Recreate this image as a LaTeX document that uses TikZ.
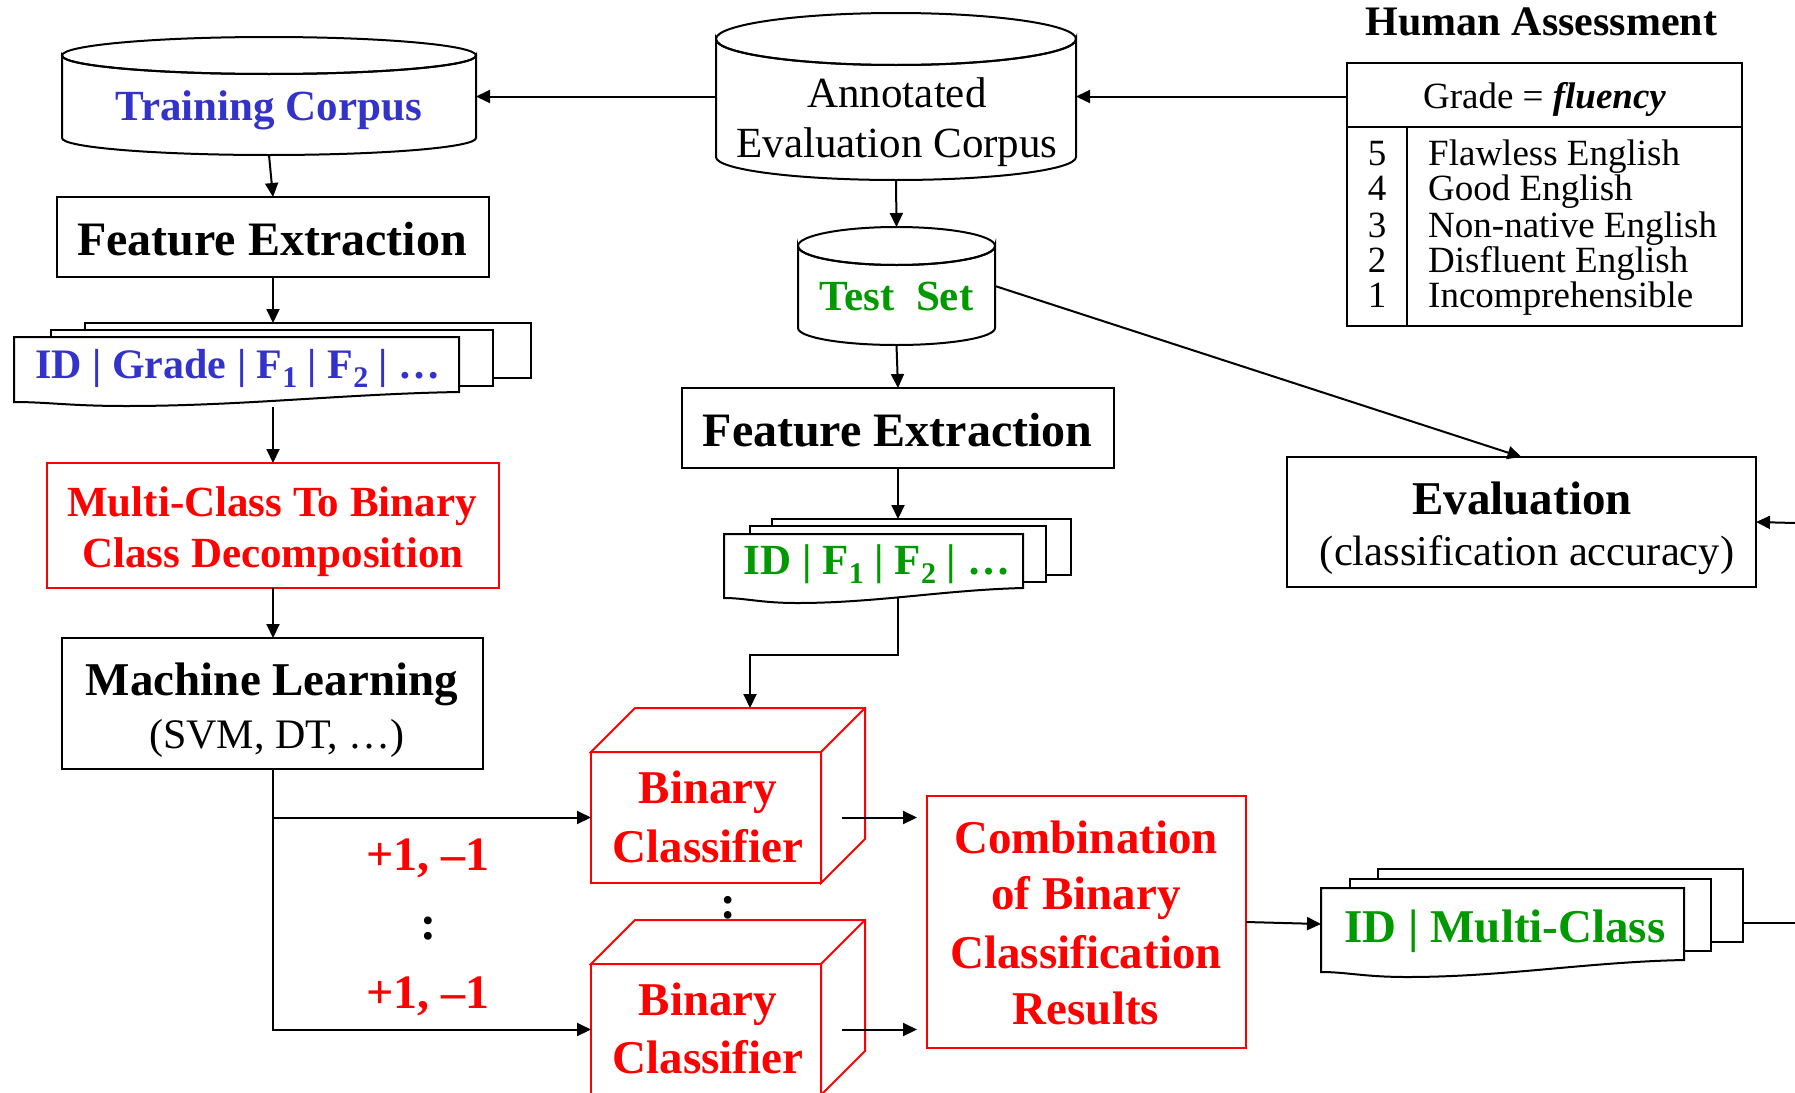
\documentclass[tikz,border=0pt]{standalone}
\usepackage{fontspec}
\setmainfont{Liberation Serif}
\usetikzlibrary{arrows.meta}
\definecolor{myred}{RGB}{255,0,0}
\definecolor{myblue}{RGB}{51,51,204}
\definecolor{mygreen}{RGB}{0,153,0}
\newcommand\fsz[1]{\fontsize{#1}{#1}\selectfont}
\newcommand\mysub[1]{\raisebox{-9pt}{\fsz{30}#1}}
% cylinder: #1 cx, #2 rx, #3 top centre y, #4 top ry, #5 bottom centre y, #6 bottom ry
\newcommand\drawcyl[6]{%
  \filldraw[fill=white,line width=2pt] ({#1-#2},#3) -- ({#1-#2},#5)
    arc[start angle=180,end angle=0,x radius=#2,y radius=#6] -- ({#1+#2},#3)
    arc[start angle=0,end angle=180,x radius=#2,y radius=#4] -- cycle;
  \draw[line width=2pt] (#1,#3) ellipse[x radius=#2,y radius=#4];}
% front document: #1 x1, #2 x2, #3 top, #4 bottom-right y, #5 bottom-left y, #6 dip x, #7 dip y
\newcommand\frontdoc[7]{%
  \filldraw[fill=white,line width=2pt] (#1,#3) -- (#2,#3) -- (#2,#4)
    .. controls ({#2-0.35*(#2-#6)},{#4+2}) and ({#6+0.35*(#2-#6)},#7) .. (#6,#7)
    .. controls ({#6-0.5*(#6-#1)},#7) and ({#1+0.3*(#6-#1)},#5) .. (#1,#5) -- cycle;}
\begin{document}
\begin{tikzpicture}[x=1pt,y=-1pt,
  ln/.style={line width=2pt},
  arr/.style={line width=2pt,-{Triangle[length=14pt,width=13pt]}},
  box/.style={draw,line width=2pt,fill=white,inner sep=0pt,outer sep=0pt},
  redbox/.style={box,draw=myred},
  ghost/.style={inner sep=0pt,outer sep=0pt},
  tb/.style={anchor=base,inner sep=0pt},
  redtxt/.style={tb,font=\fsz{47}\bfseries,text=myred}]
\path[use as bounding box] (0,0) rectangle (1795,1092);
\clip (0,0) rectangle (1795,1092);

% ---------- left column ----------
\node[ghost,minimum width=414pt,minimum height=118pt] (tc) at (269,96) {};
\drawcyl{269}{207}{55.5}{18.5}{138}{17}
\node[tb,font=\fsz{43}\bfseries,text=myblue] (tct) at (269,120) {Training Corpus};

\node[box,minimum width=432pt,minimum height=80pt] (fe1) at (273,237) {};
\node[tb,font=\fsz{48}\bfseries] (fe1t) at (272,255) {Feature Extraction};

\node[box,minimum width=446pt,minimum height=55pt] (d1back) at (308,350.5) {};
\node[box,minimum width=442pt,minimum height=56pt] (d1mid) at (272,358) {};
\node[ghost,minimum width=445pt,minimum height=55pt] (d1front) at (236.5,364.5) {};
\frontdoc{14}{459}{337}{392}{402}{126}{406}
\node[tb,font=\fsz{42}\bfseries,text=myblue] (d1) at (238,378) {ID | Grade | F\mysub{1} | F\mysub{2} | …};
\coordinate (d1s) at (273,407);

\node[redbox,minimum width=452pt,minimum height=125pt] (mc) at (273,525.5) {};
\node[redtxt,font=\fsz{43}\bfseries] (mc1) at (272,516) {Multi-Class To Binary};
\node[redtxt,font=\fsz{43}\bfseries] (mc2) at (273,567) {Class Decomposition};

\node[box,minimum width=421pt,minimum height=131pt] (ml) at (272.5,703.5) {};
\node[tb,font=\fsz{47}\bfseries] (ml1) at (272,695) {Machine Learning};
\node[tb,font=\fsz{42}] (ml2) at (277,748) {(SVM, DT, …)};

\node[redtxt,font=\fsz{48}\bfseries] (pm1) at (428,870) {+1, –1};
\node[tb,font=\fsz{48}\bfseries] (dots1) at (428,939) {:};
\node[redtxt,font=\fsz{48}\bfseries] (pm2) at (428,1008) {+1, –1};

% ---------- middle column ----------
\node[ghost,minimum width=360pt,minimum height=167pt] (aec) at (896,96.5) {};
\drawcyl{896}{180}{39}{26}{157}{23}
\node[tb,font=\fsz{43}] (aec1) at (897,107) {Annotated};
\node[tb,font=\fsz{43}] (aec2) at (897,157) {Evaluation Corpus};

\node[ghost,minimum width=197pt,minimum height=118pt] (ts) at (896.5,286) {};
\drawcyl{896.5}{98.5}{246}{19}{328}{17}
\node[tb,font=\fsz{43}\bfseries,text=mygreen] (tst) at (896.5,310) {Test\ \ Set};

\node[box,minimum width=432pt,minimum height=80pt] (fe2) at (898,428) {};
\node[tb,font=\fsz{48}\bfseries] (fe2t) at (897.5,446) {Feature Extraction};

\node[box,minimum width=299pt,minimum height=56pt] (d2back) at (921.5,547) {};
\node[box,minimum width=296pt,minimum height=56pt] (d2mid) at (898,554) {};
\frontdoc{724}{1023}{534}{588}{598}{797}{603}
\node[tb,font=\fsz{43}\bfseries,text=mygreen] (d2) at (877,574) {ID | F\mysub{1} | F\mysub{2} | …};
\coordinate (d2s) at (898,597);

% cubes
\node[redbox,minimum width=230pt,minimum height=131pt] (bc1) at (706,817.5) {};
\filldraw[fill=white,draw=myred,line width=2pt] (bc1.north west) -- ++(44,-44) -- ++(230,0) -- ++(0,131) -- (bc1.south east) -- (bc1.north east) -- cycle;
\draw[myred,line width=2pt] (bc1.north east) -- ++(44,-44);
\path (bc1.north) ++(44,-44) coordinate (bc1t);
\node[redtxt] (bc1a) at (708,803) {Binary};
\node[redtxt] (bc1b) at (708,862) {Classifier};

\node[redbox,minimum width=230pt,minimum height=131pt] (bc2) at (706,1029.5) {};
\filldraw[fill=white,draw=myred,line width=2pt] (bc2.north west) -- ++(44,-44) -- ++(230,0) -- ++(0,131) -- (bc2.south east) -- (bc2.north east) -- cycle;
\draw[myred,line width=2pt] (bc2.north east) -- ++(44,-44);
\node[redtxt] (bc2a) at (708,1015) {Binary};
\node[redtxt] (bc2b) at (708,1073) {Classifier};

\node[tb,font=\fsz{47}\bfseries] (dots2) at (728,918) {:};

\node[redbox,minimum width=319pt,minimum height=252pt] (comb) at (1086.5,922) {};
\node[redtxt] (cb1) at (1086,853) {Combination};
\node[redtxt] (cb2) at (1086,909) {of Binary};
\node[redtxt] (cb3) at (1086,968) {Classification};
\node[redtxt] (cb4) at (1086,1024) {Results};

% ---------- right column ----------
\node[tb,font=\fsz{42}\bfseries] (hat) at (1541.5,35) {Human Assessment};
\node[box,line width=2.5pt,minimum width=395pt,minimum height=263pt] (ha) at (1544.5,194.5) {};
\draw[line width=2.5pt] (1347,127) -- (1742,127);
\draw[line width=2.5pt] (1407,127) -- (1407,326);
\node[tb,font=\fsz{37}] (hag) at (1544.5,108) {Grade = \textbf{\textit{fluency}}};
\foreach \d/\t/\y in {5/Flawless English/165, 4/Good English/200, 3/Non-native English/237, 2/Disfluent English/272, 1/Incomprehensible/307}{
  \node[tb,font=\fsz{37}] at (1377,\y) {\d};
  \node[tb,anchor=base west,font=\fsz{37}] at (1428,\y) {\t};
}

\node[box,minimum width=469pt,minimum height=130pt] (ev) at (1521.5,522) {};
\node[tb,font=\fsz{47}\bfseries] (ev1) at (1522,514) {Evaluation};
\node[tb,font=\fsz{42.5}] (ev2) at (1527,565) {(classification accuracy)};
\coordinate (rin) at (1795,523);

\node[box,minimum width=365pt,minimum height=73pt] (d3back) at (1560.5,905.5) {};
\node[box,minimum width=361pt,minimum height=72pt] (d3mid) at (1530.5,915) {};
\node[ghost,minimum width=363pt,minimum height=72pt] (d3) at (1502.5,924) {};
\frontdoc{1321}{1684}{888}{960}{972}{1407}{977}
\node[tb,font=\fsz{47}\bfseries,text=mygreen] (d3t) at (1505,942) {ID | Multi-Class};
\coordinate (rout) at (1795,923);

% ---------- connectors ----------
\draw[arr] (aec.west) -- (aec.west -| tc.east);
\draw[arr] (ha.west |- aec.east) -- (aec.east);
\draw[arr] (tc.south) -- (fe1.north);
\draw[arr] (fe1.south) -- (fe1.south |- d1back.north);
\draw[arr] (d1s) -- (d1s |- mc.north);
\draw[arr] (mc.south) -- (mc.south |- ml.north);
\draw[arr] (ml.south) |- (bc1.west);
\draw[arr] (ml.south) |- (bc2.west);
\draw[arr] (aec.south) -- (ts.north);
\draw[arr] (ts.south) -- (fe2.north);
\draw[arr] (fe2.south) -- (fe2.south |- d2back.north);
\draw[arr] (d2s) -- ++(0,58) -| (bc1t);
\draw[arr] (ts.east) -- (ev.north);
\draw[arr] (rin) -- (ev.east);
\path (bc1.east) ++(21,0) coordinate (b1o);
\path (comb.west |- bc1.east) ++(-10,0) coordinate (c1i);
\path (bc2.east) ++(21,0) coordinate (b2o);
\path (comb.west |- bc2.east) ++(-10,0) coordinate (c2i);
\draw[arr] (b1o) -- (c1i);
\draw[arr] (b2o) -- (c2i);
\draw[arr] (comb.east) -- (d3.west);
\draw[ln] (d3back.east |- rout) -- (rout);
\end{tikzpicture}
\end{document}
